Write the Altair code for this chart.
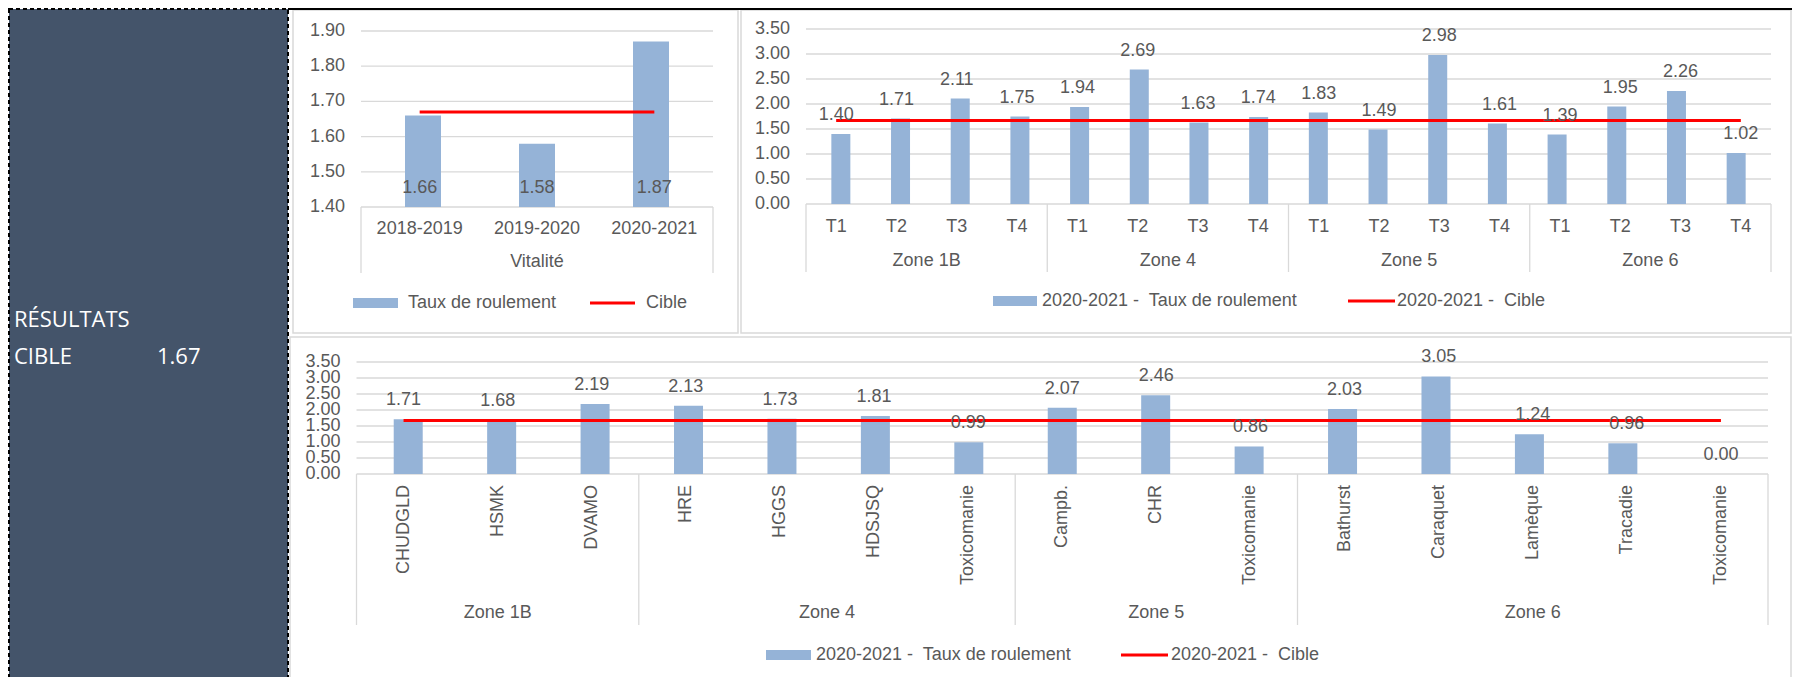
import altair as alt
import pandas as pd

FONT = "Liberation Sans"
TXT = "#595959"
GRID = "#D9D9D9"
BAR = "#95B3D7"
RED = "#FF0000"
PANEL = "#44546A"
W, H = 1784, 669

# ---------------- data ----------------
cible = 1.67
panel_title = "RÉSULTATS"
panel_label = "CIBLE"

c1_group = ["Vitalité"]
c1_periods = [["2018-2019", "2019-2020", "2020-2021"]]
c1_values = [[1.66, 1.58, 1.87]]
c1_ticks = [1.40, 1.50, 1.60, 1.70, 1.80, 1.90]
c1_legend = ["Taux de roulement", "Cible"]

c2_zones = ["Zone 1B", "Zone 4", "Zone 5", "Zone 6"]
c2_quarters = [["T1", "T2", "T3", "T4"]] * 4
c2_values = [
    [1.40, 1.71, 2.11, 1.75],
    [1.94, 2.69, 1.63, 1.74],
    [1.83, 1.49, 2.98, 1.61],
    [1.39, 1.95, 2.26, 1.02],
]
c2_ticks = [0.00, 0.50, 1.00, 1.50, 2.00, 2.50, 3.00, 3.50]
c2_legend = ["2020-2021 -\u00a0 Taux de roulement", "2020-2021 -\u00a0 Cible"]

c3_zones = ["Zone 1B", "Zone 4", "Zone 5", "Zone 6"]
c3_sites = [
    ["CHUDGLD", "HSMK", "DVAMO"],
    ["HRE", "HGGS", "HDSJSQ", "Toxicomanie"],
    ["Campb.", "CHR", "Toxicomanie"],
    ["Bathurst", "Caraquet", "Lamèque", "Tracadie", "Toxicomanie"],
]
c3_values = [
    [1.71, 1.68, 2.19],
    [2.13, 1.73, 1.81, 0.99],
    [2.07, 2.46, 0.86],
    [2.03, 3.05, 1.24, 0.96, 0.00],
]
c3_ticks = [0.00, 0.50, 1.00, 1.50, 2.00, 2.50, 3.00, 3.50]
c3_legend = ["2020-2021 -\u00a0 Taux de roulement", "2020-2021 -\u00a0 Cible"]

one = pd.DataFrame({"k": [0]})
T = dict(font=FONT, fontSize=18, color=TXT)


def build(groups, cats, vals, base):
    rows, bounds, centers, i = [], [-0.5], [], 0
    for g, cs, vs in zip(groups, cats, vals):
        start = i
        for c, v in zip(cs, vs):
            rows.append(dict(idx=i, cat=c, value=v, group=g, base=base, cible=cible))
            i += 1
        bounds.append(i - 0.5)
        centers.append(dict(group=g, center=(start + i - 1) / 2))
    return pd.DataFrame(rows), pd.DataFrame({"b": bounds}), pd.DataFrame(centers), i


def panel(groups, cats, vals, ticks, legend, x0, x1, ybase, ytop, bw, inside,
          cat_y, rotate, grp_y, sep_y2, leg_y, leg_x, box):
    df, bdf, gdf, n = build(groups, cats, vals, ticks[0])
    xs = alt.Scale(domain=[-0.5, n - 0.5], range=[x0, x1], nice=False, zero=False)
    ys = alt.Scale(domain=[ticks[0], ticks[-1]], range=[ybase, ytop], nice=False, zero=False)

    def X(f):
        return alt.X(f, type="quantitative", scale=xs, axis=None)

    def Y(f):
        return alt.Y(f, type="quantitative", scale=ys, axis=None)

    tdf = pd.DataFrame({"v": ticks})
    L = []
    L.append(alt.Chart(one).mark_rect(fill="white", stroke=GRID, strokeWidth=1.5).encode(
        x=alt.value(box[0]), x2=alt.value(box[2]), y=alt.value(box[1]), y2=alt.value(box[3])))
    L.append(alt.Chart(tdf).mark_rule(color=GRID, strokeWidth=1.3).encode(
        x=alt.value(x0), x2=alt.value(x1), y=Y("v")))
    L.append(alt.Chart(tdf).mark_text(align="right", baseline="middle", **T).encode(
        x=alt.value(x0 - 16), y=Y("v"), text=alt.Text("v:Q", format=".2f")))
    L.append(alt.Chart(df).mark_bar(color=BAR, size=bw, orient="vertical").encode(
        x=X("idx"), y=Y("value"), y2=alt.Y2("base")))
    L.append(alt.Chart(df).mark_line(color=RED, strokeWidth=3).encode(
        x=X("idx"), y=Y("cible")))
    L.append(alt.Chart(df).mark_text(align="center", baseline="alphabetic", dy=-14, **T).encode(
        x=X("idx"), y=Y("base" if inside else "value"), text=alt.Text("value:Q", format=".2f")))
    if rotate:
        L.append(alt.Chart(df).mark_text(angle=270, align="right", baseline="middle", **T).encode(
            x=X("idx"), y=alt.value(cat_y), text="cat:N"))
    else:
        L.append(alt.Chart(df).mark_text(align="center", baseline="middle", **T).encode(
            x=X("idx"), y=alt.value(cat_y), text="cat:N"))
    L.append(alt.Chart(gdf).mark_text(align="center", baseline="middle", **T).encode(
        x=X("center"), y=alt.value(grp_y), text="group:N"))
    L.append(alt.Chart(bdf).mark_rule(color=GRID, strokeWidth=1.3).encode(
        x=X("b"), y=alt.value(ybase), y2=alt.value(sep_y2)))
    # legend
    L.append(alt.Chart(one).mark_rect(color=BAR).encode(
        x=alt.value(leg_x[0]), x2=alt.value(leg_x[1]), y=alt.value(leg_y - 5), y2=alt.value(leg_y + 5)))
    L.append(alt.Chart(one).mark_text(align="left", baseline="middle", **T).encode(
        x=alt.value(leg_x[2]), y=alt.value(leg_y), text=alt.value(legend[0])))
    L.append(alt.Chart(one).mark_rule(color=RED, strokeWidth=3).encode(
        x=alt.value(leg_x[3]), x2=alt.value(leg_x[4]), y=alt.value(leg_y)))
    L.append(alt.Chart(one).mark_text(align="left", baseline="middle", **T).encode(
        x=alt.value(leg_x[5]), y=alt.value(leg_y), text=alt.value(legend[1])))
    return L


layers = []
# left dark panel
layers.append(alt.Chart(one).mark_rect(fill=PANEL, stroke="black", strokeWidth=2, strokeDash=[4, 3]).encode(
    x=alt.value(1), x2=alt.value(280), y=alt.value(1), y2=alt.value(690)))
PT = dict(font="Open Sans", fontSize=22, color="white", align="left", baseline="middle")
layers.append(alt.Chart(one).mark_text(**PT).encode(x=alt.value(6), y=alt.value(312), text=alt.value(panel_title)))
layers.append(alt.Chart(one).mark_text(**PT).encode(x=alt.value(6), y=alt.value(349), text=alt.value(panel_label)))
layers.append(alt.Chart(one).mark_text(**PT).encode(x=alt.value(149), y=alt.value(349), text=alt.value(f"{cible:.2f}")))

layers += panel(c1_group, c1_periods, c1_values, c1_ticks, c1_legend,
                x0=353, x1=705, ybase=199, ytop=23, bw=36, inside=True,
                cat_y=221, rotate=False, grp_y=254, sep_y2=265,
                leg_y=295, leg_x=[345, 390, 400, 582, 627, 638], box=[285, 2, 730, 325])
layers += panel(c2_zones, c2_quarters, c2_values, c2_ticks, c2_legend,
                x0=798, x1=1763, ybase=196, ytop=21, bw=19, inside=False,
                cat_y=219, rotate=False, grp_y=253, sep_y2=264,
                leg_y=293, leg_x=[985, 1029, 1034, 1340, 1387, 1389], box=[733, 2, 1783, 325])
layers += panel(c3_zones, c3_sites, c3_values, c3_ticks, c3_legend,
                x0=348.5, x1=1760, ybase=466, ytop=354, bw=29, inside=False,
                cat_y=477, rotate=True, grp_y=605, sep_y2=617,
                leg_y=647, leg_x=[758, 803, 808, 1113, 1160, 1163], box=[282, 329, 1783, 690])

# top frame line
layers.append(alt.Chart(one).mark_rule(color="black", strokeWidth=2).encode(
    x=alt.value(280), x2=alt.value(W), y=alt.value(1)))

chart = alt.layer(*layers).resolve_scale(x="independent", y="independent").properties(
    width=W, height=H, padding=0, autosize=alt.AutoSizeParams(type="none")
).configure_view(stroke=None)

chart.save("out.html", embed_options={"renderer": "svg", "actions": False})
